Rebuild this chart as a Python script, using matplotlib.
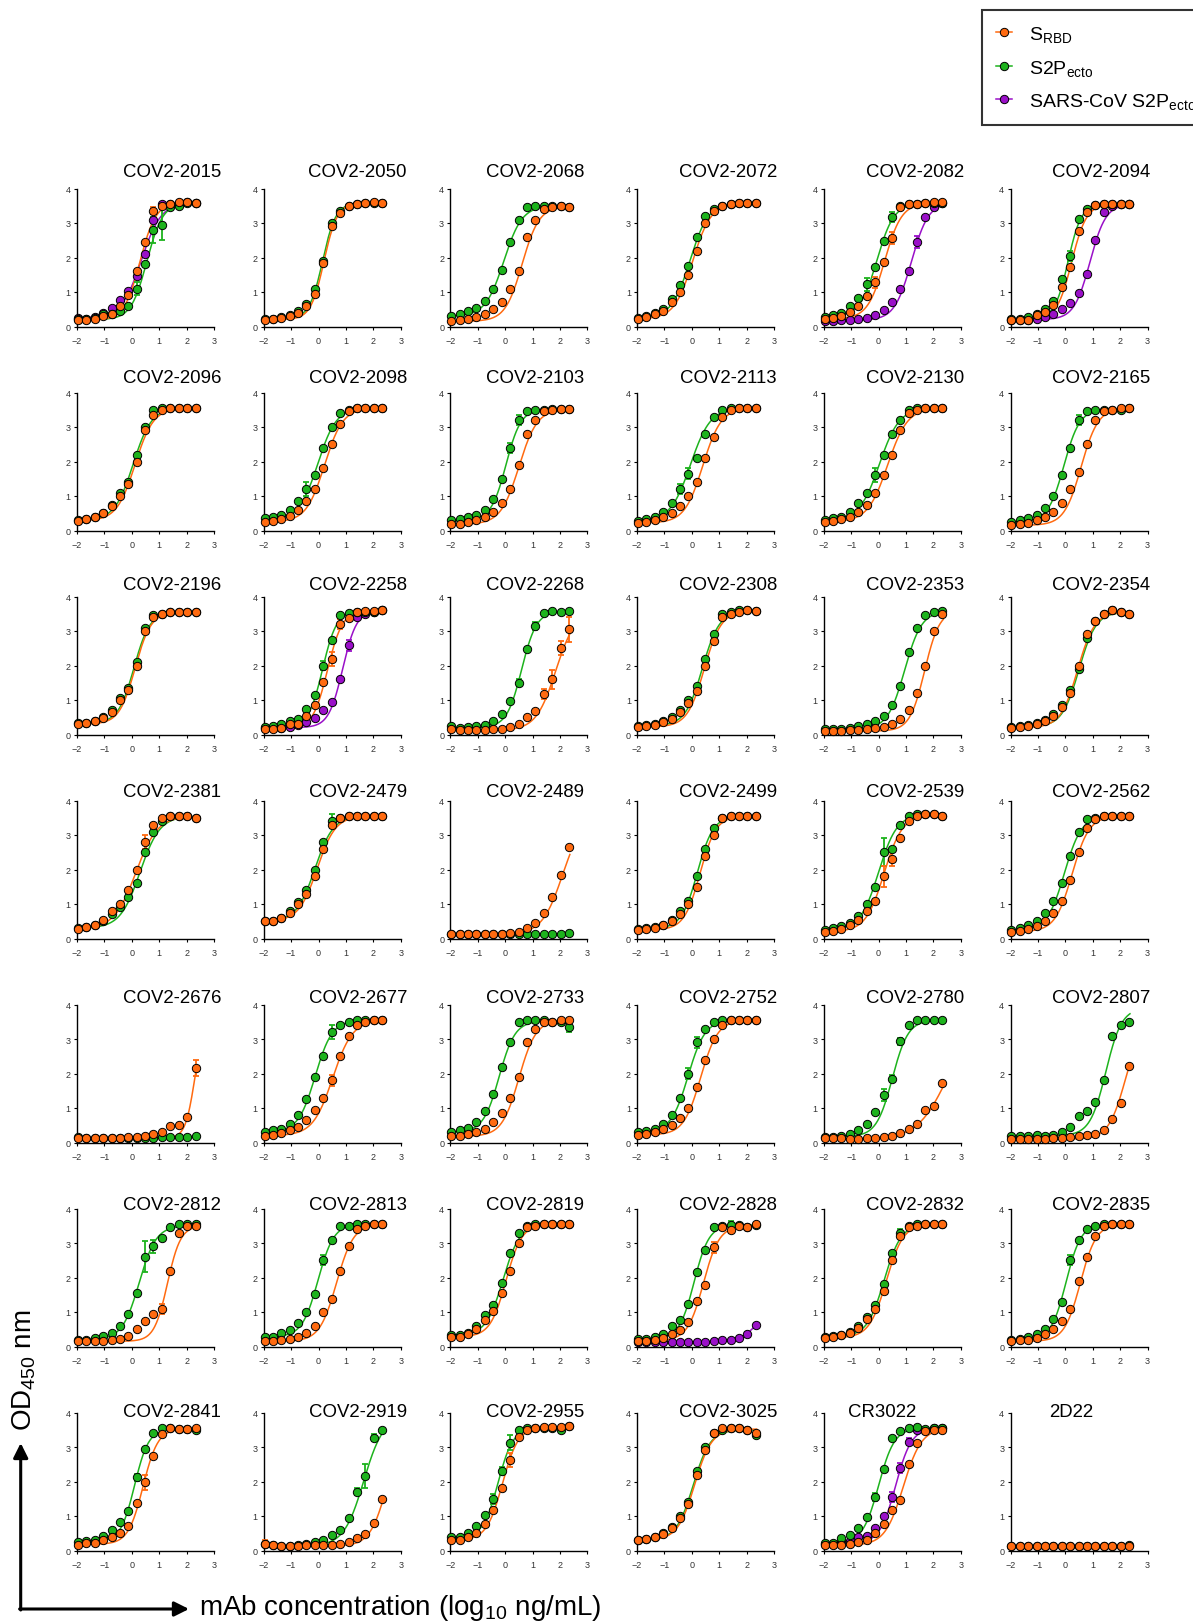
import numpy as np
import matplotlib
matplotlib.use('Agg')
import matplotlib.pyplot as plt
from matplotlib.lines import Line2D

plt.rcParams['font.family'] = ['Liberation Sans', 'DejaVu Sans']
plt.rcParams['mathtext.fontset'] = 'custom'
plt.rcParams['mathtext.rm'] = 'Liberation Sans'
plt.rcParams['mathtext.it'] = 'Liberation Sans:italic'
plt.rcParams['mathtext.bf'] = 'Liberation Sans:bold'

# log10 mAb concentration (ng/mL), 15 dilutions
conc_log = [-1.97, -1.66, -1.36, -1.05, -0.74, -0.44, -0.13, 0.18, 0.49, 0.79, 1.10, 1.41, 1.71, 2.02, 2.33]

titles = ['COV2-2015', 'COV2-2050', 'COV2-2068', 'COV2-2072', 'COV2-2082', 'COV2-2094',
          'COV2-2096', 'COV2-2098', 'COV2-2103', 'COV2-2113', 'COV2-2130', 'COV2-2165',
          'COV2-2196', 'COV2-2258', 'COV2-2268', 'COV2-2308', 'COV2-2353', 'COV2-2354',
          'COV2-2381', 'COV2-2479', 'COV2-2489', 'COV2-2499', 'COV2-2539', 'COV2-2562',
          'COV2-2676', 'COV2-2677', 'COV2-2733', 'COV2-2752', 'COV2-2780', 'COV2-2807',
          'COV2-2812', 'COV2-2813', 'COV2-2819', 'COV2-2828', 'COV2-2832', 'COV2-2835',
          'COV2-2841', 'COV2-2919', 'COV2-2955', 'COV2-3025', 'CR3022', '2D22']

# OD450 readings, S RBD (orange)
rbd_od = [
    [0.18, 0.18, 0.22, 0.30, 0.35, 0.60, 0.90, 1.60, 2.45, 3.35, 3.50, 3.55, 3.60, 3.60, 3.58],
    [0.20, 0.22, 0.25, 0.30, 0.40, 0.60, 0.95, 1.85, 2.90, 3.30, 3.50, 3.55, 3.58, 3.60, 3.58],
    [0.15, 0.20, 0.22, 0.28, 0.35, 0.50, 0.70, 1.10, 1.60, 2.60, 3.10, 3.40, 3.45, 3.50, 3.45],
    [0.22, 0.28, 0.35, 0.45, 0.70, 1.00, 1.50, 2.20, 3.00, 3.35, 3.50, 3.55, 3.58, 3.58, 3.58],
    [0.22, 0.25, 0.30, 0.42, 0.60, 0.88, 1.28, 1.88, 2.57, 3.45, 3.55, 3.55, 3.57, 3.60, 3.60],
    [0.18, 0.18, 0.20, 0.32, 0.42, 0.62, 1.15, 1.72, 2.78, 3.32, 3.52, 3.55, 3.55, 3.55, 3.55],
    [0.28, 0.32, 0.38, 0.50, 0.70, 1.00, 1.35, 2.00, 2.90, 3.35, 3.50, 3.55, 3.55, 3.55, 3.55],
    [0.25, 0.28, 0.32, 0.42, 0.60, 0.85, 1.20, 1.80, 2.50, 3.10, 3.45, 3.55, 3.55, 3.55, 3.55],
    [0.18, 0.20, 0.25, 0.30, 0.40, 0.55, 0.80, 1.20, 1.90, 2.80, 3.20, 3.45, 3.50, 3.52, 3.52],
    [0.22, 0.25, 0.30, 0.38, 0.50, 0.70, 1.00, 1.40, 2.10, 2.70, 3.30, 3.50, 3.55, 3.55, 3.55],
    [0.25, 0.28, 0.32, 0.40, 0.55, 0.75, 1.10, 1.60, 2.20, 2.90, 3.40, 3.50, 3.55, 3.55, 3.55],
    [0.15, 0.18, 0.22, 0.30, 0.40, 0.55, 0.80, 1.20, 1.70, 2.50, 3.20, 3.45, 3.50, 3.55, 3.55],
    [0.30, 0.32, 0.38, 0.48, 0.65, 1.00, 1.30, 2.00, 3.00, 3.40, 3.50, 3.55, 3.55, 3.55, 3.55],
    [0.15, 0.17, 0.18, 0.30, 0.30, 0.55, 0.85, 1.52, 2.18, 3.20, 3.38, 3.55, 3.57, 3.58, 3.60],
    [0.15, 0.12, 0.12, 0.12, 0.12, 0.15, 0.17, 0.22, 0.30, 0.50, 0.67, 1.17, 1.60, 2.50, 3.05],
    [0.22, 0.25, 0.28, 0.35, 0.45, 0.65, 0.90, 1.25, 2.00, 2.70, 3.40, 3.50, 3.55, 3.60, 3.58],
    [0.10, 0.10, 0.10, 0.12, 0.12, 0.15, 0.18, 0.22, 0.30, 0.45, 0.70, 1.20, 2.00, 3.00, 3.50],
    [0.20, 0.22, 0.25, 0.30, 0.40, 0.55, 0.80, 1.20, 2.00, 2.90, 3.30, 3.50, 3.60, 3.55, 3.50],
    [0.28, 0.32, 0.40, 0.55, 0.80, 1.00, 1.40, 2.00, 2.80, 3.30, 3.50, 3.55, 3.55, 3.55, 3.50],
    [0.50, 0.50, 0.60, 0.75, 1.00, 1.30, 1.80, 2.60, 3.30, 3.50, 3.55, 3.55, 3.55, 3.55, 3.55],
    [0.12, 0.12, 0.12, 0.12, 0.12, 0.12, 0.14, 0.16, 0.20, 0.30, 0.45, 0.75, 1.20, 1.85, 2.65],
    [0.25, 0.27, 0.30, 0.38, 0.50, 0.70, 1.00, 1.50, 2.40, 3.00, 3.50, 3.55, 3.55, 3.55, 3.55],
    [0.20, 0.22, 0.28, 0.38, 0.55, 0.80, 1.10, 1.80, 2.30, 2.90, 3.40, 3.55, 3.60, 3.60, 3.55],
    [0.20, 0.22, 0.28, 0.35, 0.50, 0.75, 1.10, 1.70, 2.50, 3.20, 3.45, 3.55, 3.55, 3.55, 3.55],
    [0.13, 0.12, 0.12, 0.12, 0.12, 0.13, 0.15, 0.17, 0.20, 0.25, 0.30, 0.47, 0.50, 0.75, 2.15],
    [0.20, 0.22, 0.28, 0.35, 0.45, 0.65, 0.95, 1.30, 1.80, 2.50, 3.10, 3.40, 3.50, 3.55, 3.55],
    [0.18, 0.20, 0.25, 0.30, 0.40, 0.60, 0.85, 1.30, 1.90, 2.90, 3.30, 3.50, 3.50, 3.55, 3.55],
    [0.22, 0.25, 0.30, 0.38, 0.50, 0.70, 1.00, 1.60, 2.40, 3.00, 3.40, 3.55, 3.55, 3.55, 3.55],
    [0.12, 0.12, 0.12, 0.10, 0.10, 0.12, 0.13, 0.17, 0.20, 0.27, 0.38, 0.55, 0.93, 1.05, 1.73],
    [0.10, 0.10, 0.10, 0.10, 0.10, 0.12, 0.12, 0.15, 0.20, 0.22, 0.25, 0.37, 0.67, 1.15, 2.22],
    [0.15, 0.15, 0.15, 0.17, 0.18, 0.22, 0.30, 0.50, 0.75, 0.95, 1.08, 2.20, 3.30, 3.50, 3.50],
    [0.15, 0.15, 0.18, 0.22, 0.28, 0.40, 0.58, 1.00, 1.37, 2.20, 2.90, 3.40, 3.50, 3.55, 3.55],
    [0.28, 0.28, 0.35, 0.52, 0.77, 1.02, 1.55, 2.20, 3.00, 3.45, 3.50, 3.55, 3.55, 3.55, 3.55],
    [0.17, 0.17, 0.20, 0.25, 0.35, 0.47, 0.72, 1.32, 1.78, 2.87, 3.45, 3.38, 3.48, 3.45, 3.55],
    [0.25, 0.28, 0.32, 0.40, 0.55, 0.80, 1.10, 1.60, 2.50, 3.20, 3.45, 3.50, 3.55, 3.55, 3.55],
    [0.15, 0.18, 0.20, 0.25, 0.35, 0.50, 0.75, 1.10, 1.90, 2.60, 3.20, 3.50, 3.55, 3.55, 3.55],
    [0.15, 0.22, 0.22, 0.30, 0.38, 0.52, 0.72, 1.37, 1.98, 2.73, 3.38, 3.55, 3.52, 3.52, 3.55],
    [0.20, 0.15, 0.13, 0.12, 0.12, 0.15, 0.15, 0.15, 0.17, 0.20, 0.25, 0.37, 0.47, 0.80, 1.48],
    [0.30, 0.30, 0.38, 0.52, 0.77, 1.18, 1.82, 2.62, 3.30, 3.50, 3.55, 3.58, 3.58, 3.58, 3.60],
    [0.30, 0.32, 0.38, 0.48, 0.65, 0.95, 1.35, 2.20, 2.90, 3.40, 3.55, 3.55, 3.55, 3.50, 3.40],
    [0.15, 0.15, 0.17, 0.20, 0.25, 0.30, 0.50, 0.77, 1.17, 1.45, 2.52, 3.13, 3.45, 3.48, 3.50],
    [0.12, 0.12, 0.12, 0.12, 0.12, 0.12, 0.12, 0.12, 0.12, 0.12, 0.12, 0.12, 0.12, 0.13, 0.13],
]

# OD450 readings, S2P ecto (green)
s2p_od = [
    [0.22, 0.22, 0.25, 0.35, 0.35, 0.45, 0.60, 1.10, 1.80, 2.80, 2.95, 3.45, 3.50, 3.58, 3.58],
    [0.22, 0.23, 0.27, 0.32, 0.45, 0.65, 1.10, 1.90, 3.00, 3.35, 3.50, 3.55, 3.58, 3.58, 3.58],
    [0.30, 0.35, 0.45, 0.55, 0.75, 1.10, 1.65, 2.45, 3.10, 3.45, 3.50, 3.50, 3.50, 3.50, 3.45],
    [0.25, 0.30, 0.38, 0.50, 0.80, 1.20, 1.75, 2.60, 3.20, 3.40, 3.50, 3.55, 3.58, 3.58, 3.58],
    [0.28, 0.32, 0.40, 0.58, 0.82, 1.22, 1.72, 2.47, 3.17, 3.50, 3.55, 3.55, 3.57, 3.58, 3.58],
    [0.22, 0.22, 0.27, 0.37, 0.52, 0.73, 1.38, 2.05, 3.12, 3.42, 3.52, 3.55, 3.55, 3.55, 3.55],
    [0.30, 0.33, 0.40, 0.52, 0.75, 1.10, 1.40, 2.20, 3.00, 3.50, 3.55, 3.55, 3.55, 3.55, 3.55],
    [0.35, 0.38, 0.45, 0.60, 0.85, 1.20, 1.60, 2.40, 3.00, 3.40, 3.50, 3.55, 3.55, 3.55, 3.55],
    [0.30, 0.32, 0.38, 0.45, 0.60, 0.90, 1.50, 2.40, 3.20, 3.45, 3.50, 3.50, 3.52, 3.52, 3.52],
    [0.28, 0.32, 0.40, 0.55, 0.80, 1.20, 1.65, 2.10, 2.80, 3.30, 3.50, 3.55, 3.55, 3.55, 3.55],
    [0.30, 0.35, 0.40, 0.55, 0.80, 1.10, 1.60, 2.20, 2.80, 3.20, 3.50, 3.55, 3.55, 3.55, 3.55],
    [0.25, 0.30, 0.35, 0.45, 0.65, 1.00, 1.60, 2.40, 3.20, 3.45, 3.50, 3.50, 3.50, 3.50, 3.55],
    [0.32, 0.33, 0.40, 0.50, 0.70, 1.05, 1.35, 2.10, 3.10, 3.45, 3.50, 3.55, 3.55, 3.55, 3.55],
    [0.22, 0.25, 0.30, 0.38, 0.45, 0.75, 1.15, 2.00, 2.75, 3.45, 3.52, 3.55, 3.55, 3.55, 3.60],
    [0.25, 0.20, 0.22, 0.25, 0.28, 0.40, 0.60, 0.97, 1.50, 2.47, 3.15, 3.52, 3.57, 3.55, 3.57],
    [0.25, 0.27, 0.30, 0.38, 0.50, 0.70, 1.00, 1.40, 2.20, 2.90, 3.50, 3.55, 3.60, 3.60, 3.58],
    [0.15, 0.15, 0.17, 0.20, 0.25, 0.30, 0.40, 0.55, 0.85, 1.40, 2.40, 3.10, 3.45, 3.55, 3.58],
    [0.22, 0.25, 0.28, 0.32, 0.42, 0.60, 0.85, 1.30, 1.90, 2.80, 3.30, 3.50, 3.60, 3.55, 3.50],
    [0.30, 0.32, 0.40, 0.50, 0.70, 0.90, 1.20, 1.60, 2.50, 3.10, 3.40, 3.55, 3.55, 3.55, 3.50],
    [0.50, 0.50, 0.60, 0.80, 1.05, 1.40, 2.00, 2.80, 3.40, 3.50, 3.55, 3.55, 3.55, 3.55, 3.55],
    [0.12, 0.12, 0.12, 0.12, 0.12, 0.12, 0.12, 0.12, 0.12, 0.12, 0.12, 0.12, 0.12, 0.12, 0.15],
    [0.28, 0.30, 0.33, 0.40, 0.55, 0.80, 1.10, 1.80, 2.60, 3.20, 3.50, 3.55, 3.55, 3.55, 3.55],
    [0.25, 0.30, 0.35, 0.45, 0.65, 1.00, 1.50, 2.50, 2.60, 3.30, 3.55, 3.60, 3.60, 3.60, 3.55],
    [0.25, 0.30, 0.38, 0.50, 0.75, 1.10, 1.60, 2.40, 3.10, 3.45, 3.50, 3.55, 3.55, 3.55, 3.55],
    [0.15, 0.13, 0.13, 0.13, 0.13, 0.13, 0.13, 0.13, 0.13, 0.13, 0.15, 0.15, 0.15, 0.15, 0.20],
    [0.30, 0.35, 0.40, 0.55, 0.80, 1.25, 1.90, 2.50, 3.20, 3.40, 3.50, 3.55, 3.55, 3.55, 3.55],
    [0.30, 0.35, 0.42, 0.60, 0.90, 1.40, 2.20, 2.90, 3.50, 3.55, 3.55, 3.55, 3.50, 3.50, 3.35],
    [0.30, 0.33, 0.40, 0.55, 0.80, 1.30, 2.00, 2.90, 3.30, 3.50, 3.55, 3.55, 3.55, 3.55, 3.55],
    [0.17, 0.17, 0.20, 0.25, 0.35, 0.55, 0.88, 1.38, 1.85, 2.93, 3.42, 3.55, 3.55, 3.55, 3.55],
    [0.20, 0.20, 0.20, 0.22, 0.20, 0.23, 0.30, 0.45, 0.78, 0.90, 1.17, 1.82, 3.08, 3.42, 3.50],
    [0.20, 0.20, 0.25, 0.30, 0.38, 0.60, 0.93, 1.55, 2.60, 2.90, 3.15, 3.45, 3.55, 3.55, 3.55],
    [0.28, 0.27, 0.40, 0.48, 0.68, 1.00, 1.52, 2.50, 3.10, 3.50, 3.50, 3.55, 3.55, 3.55, 3.55],
    [0.32, 0.32, 0.40, 0.60, 0.92, 1.20, 1.85, 2.70, 3.30, 3.50, 3.55, 3.55, 3.55, 3.55, 3.55],
    [0.22, 0.22, 0.27, 0.35, 0.58, 0.78, 1.22, 2.17, 2.80, 3.45, 3.50, 3.52, 3.52, 3.45, 3.52],
    [0.28, 0.30, 0.33, 0.42, 0.60, 0.85, 1.20, 1.80, 2.70, 3.30, 3.50, 3.55, 3.55, 3.55, 3.55],
    [0.20, 0.22, 0.28, 0.35, 0.50, 0.80, 1.30, 2.50, 3.10, 3.40, 3.50, 3.55, 3.55, 3.55, 3.55],
    [0.25, 0.27, 0.30, 0.42, 0.60, 0.82, 1.15, 2.12, 2.95, 3.42, 3.55, 3.55, 3.52, 3.52, 3.48],
    [0.18, 0.15, 0.12, 0.13, 0.17, 0.20, 0.25, 0.30, 0.45, 0.60, 0.93, 1.70, 2.15, 3.27, 3.50],
    [0.38, 0.38, 0.50, 0.70, 1.03, 1.50, 2.30, 3.12, 3.50, 3.55, 3.55, 3.55, 3.55, 3.50, 3.60],
    [0.30, 0.33, 0.38, 0.50, 0.68, 1.00, 1.40, 2.30, 3.00, 3.40, 3.50, 3.55, 3.55, 3.50, 3.35],
    [0.22, 0.22, 0.35, 0.45, 0.65, 0.97, 1.55, 2.35, 3.25, 3.45, 3.55, 3.57, 3.52, 3.55, 3.55],
    [0.13, 0.13, 0.13, 0.13, 0.13, 0.13, 0.13, 0.13, 0.13, 0.13, 0.13, 0.13, 0.13, 0.14, 0.15],
]

# OD450 readings, SARS-CoV S2P ecto (purple), only for some mAbs
sars_panels = ['COV2-2015', 'COV2-2082', 'COV2-2094', 'COV2-2258', 'COV2-2828', 'CR3022']
sars_od = [
    [0.25, 0.22, 0.28, 0.38, 0.55, 0.78, 1.02, 1.45, 2.10, 3.10, 3.55, 3.55, 3.58, 3.60, 3.58],
    [0.15, 0.17, 0.18, 0.20, 0.22, 0.25, 0.33, 0.47, 0.72, 1.10, 1.62, 2.45, 3.17, 3.45, 3.58],
    [0.20, 0.20, 0.18, 0.22, 0.28, 0.37, 0.50, 0.68, 0.97, 1.52, 2.52, 3.32, 3.50, 3.55, 3.55],
    [0.20, 0.20, 0.20, 0.22, 0.27, 0.37, 0.48, 0.70, 0.95, 1.60, 2.58, 3.40, 3.50, 3.55, 3.60],
    [0.12, 0.12, 0.12, 0.12, 0.13, 0.13, 0.13, 0.13, 0.13, 0.15, 0.18, 0.20, 0.25, 0.35, 0.62],
    [0.20, 0.20, 0.25, 0.27, 0.38, 0.42, 0.65, 1.00, 1.55, 2.40, 3.15, 3.50, 3.50, 3.55, 3.55],
]

# 4PL fits: (bottom, top, logEC50, hill)
rbd_fit = [
    (0.18, 3.60, 0.30, 1.5), (0.20, 3.58, 0.20, 1.8), (0.15, 3.48, 0.62, 1.4), (0.22, 3.58, 0.03, 1.3),
    (0.22, 3.58, 0.22, 1.4), (0.18, 3.55, 0.23, 1.6), (0.28, 3.55, 0.12, 1.3), (0.25, 3.55, 0.22, 1.3),
    (0.18, 3.52, 0.50, 1.3), (0.22, 3.55, 0.40, 1.3), (0.25, 3.55, 0.33, 1.2), (0.15, 3.55, 0.58, 1.4),
    (0.30, 3.55, 0.12, 1.5), (0.15, 3.60, 0.33, 1.6), (0.12, 3.60, 1.85, 1.2), (0.22, 3.58, 0.45, 1.4),
    (0.10, 3.60, 1.68, 1.6), (0.20, 3.55, 0.45, 1.4), (0.28, 3.55, 0.15, 1.1), (0.50, 3.55, -0.05, 1.3),
    (0.12, 3.60, 2.10, 1.15), (0.25, 3.55, 0.30, 1.5), (0.20, 3.58, 0.20, 1.3), (0.20, 3.55, 0.25, 1.4),
    (0.13, 3.60, 2.30, 2.5), (0.20, 3.55, 0.52, 1.2), (0.18, 3.55, 0.50, 1.4), (0.22, 3.55, 0.32, 1.4),
    (0.10, 3.60, 2.50, 0.8), (0.10, 3.60, 2.20, 1.4), (0.15, 3.50, 1.30, 1.8), (0.15, 3.55, 0.66, 1.4),
    (0.28, 3.55, 0.03, 1.5), (0.17, 3.50, 0.42, 1.5), (0.25, 3.55, 0.28, 1.4), (0.15, 3.55, 0.55, 1.5),
    (0.18, 3.53, 0.41, 1.6), (0.13, 3.60, 2.50, 1.4), (0.30, 3.58, -0.10, 1.5), (0.30, 3.52, 0.10, 1.4),
    (0.15, 3.55, 0.90, 1.3), (0.12, 3.60, 4.50, 1.0),
]

s2p_fit = [
    (0.20, 3.58, 0.55, 1.5), (0.22, 3.58, 0.15, 1.8), (0.30, 3.50, -0.05, 1.3), (0.25, 3.58, -0.07, 1.3),
    (0.28, 3.57, -0.06, 1.4), (0.22, 3.55, 0.10, 1.8), (0.30, 3.55, 0.05, 1.3), (0.35, 3.55, -0.02, 1.3),
    (0.30, 3.52, 0.03, 1.6), (0.28, 3.55, -0.05, 1.2), (0.30, 3.55, 0.03, 1.2), (0.25, 3.52, -0.05, 1.5),
    (0.32, 3.55, 0.08, 1.5), (0.22, 3.58, 0.15, 1.7), (0.20, 3.57, 0.60, 1.6), (0.25, 3.58, 0.38, 1.4),
    (0.15, 3.58, 0.95, 1.4), (0.22, 3.55, 0.50, 1.4), (0.30, 3.55, 0.30, 1.2), (0.50, 3.55, -0.13, 1.3),
    (0.12, 3.60, 4.50, 1.0), (0.28, 3.55, 0.20, 1.5), (0.25, 3.60, 0.00, 1.3), (0.25, 3.55, -0.03, 1.4),
    (0.13, 3.60, 4.50, 1.0), (0.30, 3.55, -0.12, 1.4), (0.30, 3.52, -0.22, 1.5), (0.30, 3.55, -0.14, 1.4),
    (0.17, 3.55, 0.50, 1.5), (0.20, 3.90, 1.48, 1.5), (0.20, 3.50, 0.27, 1.4), (0.28, 3.55, -0.02, 1.5),
    (0.32, 3.55, -0.08, 1.4), (0.22, 3.52, 0.08, 1.6), (0.28, 3.55, 0.20, 1.4), (0.20, 3.55, 0.03, 1.6),
    (0.25, 3.52, 0.10, 1.7), (0.13, 3.90, 1.65, 1.2), (0.38, 3.55, -0.26, 1.6), (0.30, 3.50, 0.05, 1.4),
    (0.22, 3.55, 0.00, 1.5), (0.13, 3.60, 4.50, 1.0),
]

sars_fit = [
    (0.25, 3.60, 0.35, 1.2), (0.18, 3.60, 1.20, 1.4), (0.20, 3.55, 0.90, 1.5),
    (0.20, 3.60, 0.88, 1.7), (0.12, 3.60, 3.10, 1.0), (0.20, 3.55, 0.62, 1.5),
]

# larger SD error bars: (panel, series, point index, sd)
err_bars = [
    ('COV2-2015', 's2p', 7, 0.2), ('COV2-2015', 's2p', 9, 0.37), ('COV2-2015', 's2p', 10, 0.45), ('COV2-2015', 'rbd', 9, 0.1),
    ('COV2-2082', 's2p', 5, 0.2), ('COV2-2082', 's2p', 8, 0.15), ('COV2-2082', 'rbd', 6, 0.15), ('COV2-2082', 'rbd', 8, 0.17),
    ('COV2-2082', 'sars', 11, 0.17), ('COV2-2094', 's2p', 7, 0.15),
    ('COV2-2098', 's2p', 5, 0.2), ('COV2-2103', 's2p', 7, 0.15), ('COV2-2103', 's2p', 8, 0.15),
    ('COV2-2113', 's2p', 5, 0.15), ('COV2-2113', 's2p', 6, 0.15), ('COV2-2130', 's2p', 6, 0.2),
    ('COV2-2165', 's2p', 8, 0.15),
    ('COV2-2258', 's2p', 7, 0.12), ('COV2-2258', 'rbd', 8, 0.2), ('COV2-2258', 'rbd', 9, 0.15), ('COV2-2258', 'sars', 10, 0.15),
    ('COV2-2268', 's2p', 8, 0.1), ('COV2-2268', 's2p', 10, 0.12), ('COV2-2268', 'rbd', 11, 0.15),
    ('COV2-2268', 'rbd', 12, 0.28), ('COV2-2268', 'rbd', 13, 0.2), ('COV2-2268', 'rbd', 14, 0.37),
    ('COV2-2381', 'rbd', 8, 0.2), ('COV2-2479', 's2p', 8, 0.2),
    ('COV2-2539', 's2p', 7, 0.4), ('COV2-2539', 'rbd', 7, 0.3), ('COV2-2539', 'rbd', 8, 0.2),
    ('COV2-2676', 'rbd', 14, 0.23),
    ('COV2-2677', 's2p', 8, 0.2), ('COV2-2677', 'rbd', 8, 0.15), ('COV2-2733', 's2p', 14, 0.15),
    ('COV2-2752', 's2p', 6, 0.15), ('COV2-2752', 's2p', 7, 0.15),
    ('COV2-2780', 's2p', 7, 0.18), ('COV2-2780', 's2p', 8, 0.1), ('COV2-2780', 's2p', 9, 0.1),
    ('COV2-2812', 's2p', 8, 0.45), ('COV2-2812', 's2p', 9, 0.2), ('COV2-2812', 'rbd', 10, 0.15),
    ('COV2-2813', 's2p', 7, 0.15), ('COV2-2828', 's2p', 11, 0.12), ('COV2-2828', 'rbd', 9, 0.15),
    ('COV2-2828', 'rbd', 11, 0.1), ('COV2-2832', 's2p', 9, 0.1), ('COV2-2835', 's2p', 7, 0.15),
    ('COV2-2841', 's2p', 7, 0.1), ('COV2-2841', 'rbd', 8, 0.22),
    ('COV2-2919', 'rbd', 0, 0.1), ('COV2-2919', 's2p', 11, 0.1), ('COV2-2919', 's2p', 12, 0.35), ('COV2-2919', 's2p', 13, 0.1),
    ('COV2-2955', 's2p', 5, 0.15), ('COV2-2955', 's2p', 6, 0.12), ('COV2-2955', 's2p', 7, 0.22), ('COV2-2955', 'rbd', 7, 0.2),
    ('CR3022', 's2p', 6, 0.12), ('CR3022', 'sars', 8, 0.15), ('CR3022', 'sars', 9, 0.15), ('CR3022', 'sars', 10, 0.1),
]

colors = {'rbd': '#ff6a10', 's2p': '#1db31d', 'sars': '#9a10c8'}


def four_pl(x, bottom, top, ec50, hill):
    return bottom + (top - bottom) / (1 + 10 ** (hill * (ec50 - x)))


W, H = 1193, 1624
fig = plt.figure(figsize=(W / 100, H / 100), dpi=100)

# overlay in pixel coordinates for titles, labels and arrows
over = fig.add_axes([0, 0, 1, 1])
over.set_xlim(0, W)
over.set_ylim(H, 0)
over.axis('off')
over.set_zorder(10)

x_fit = np.linspace(-1.97, 2.36, 200)
title_shift = [4, 3, -6, 0, 0, 0]

for i, name in enumerate(titles):
    r, c = divmod(i, 6)
    left = 77 + c * 186.7
    top = 189.5 + r * 204
    ax = fig.add_axes([left / W, 1 - (top + 138) / H, 137 / W, 138 / H])
    ax.patch.set_visible(False)

    series = []
    if name in sars_panels:
        k = sars_panels.index(name)
        series.append(('sars', sars_od[k], sars_fit[k]))
    series.append(('s2p', s2p_od[i], s2p_fit[i]))
    series.append(('rbd', rbd_od[i], rbd_fit[i]))

    for key, vals, fit in series:
        col = colors[key]
        ax.plot(x_fit, four_pl(x_fit, *fit), color=col, lw=1.1, zorder=2, clip_on=False)
        for (p, s, idx, sd) in err_bars:
            if p == name and s == key:
                ax.errorbar(conc_log[idx], vals[idx], yerr=sd, fmt='none', ecolor=col,
                            elinewidth=1.3, capsize=2.5, capthick=1.3, zorder=3, clip_on=False)
        ax.plot(conc_log, vals, 'o', ms=6, mfc=col, mec='black', mew=0.7, zorder=4, clip_on=False)

    ax.set_xlim(-2, 3)
    ax.set_ylim(0, 4)
    ax.set_xticks([-2, -1, 0, 1, 2, 3])
    ax.set_yticks([0, 1, 2, 3, 4])
    for s in ['top', 'right']:
        ax.spines[s].set_visible(False)
    for s in ['left', 'bottom']:
        ax.spines[s].set_linewidth(1.0)
    ax.tick_params(length=2.5, width=0.8, labelsize=6.5, labelcolor='#333333')
    ax.tick_params(axis='x', pad=4.5)
    ax.tick_params(axis='y', pad=2)

    # panel title
    if name == 'CR3022':
        tx = left + 58
    elif name == '2D22':
        tx = left + 61
    else:
        tx = left + 91 + title_shift[c]
    over.text(tx, 176.7 + r * 206.7, name, ha='center', va='baseline', fontsize=13.4)

# axis arrows and labels
over.annotate('', xy=(20.7, 1444), xytext=(20.7, 1611),
              arrowprops=dict(arrowstyle='-|>', lw=2.2, color='black', mutation_scale=22,
                              shrinkA=0, shrinkB=0))
over.annotate('', xy=(189, 1610), xytext=(19.6, 1610),
              arrowprops=dict(arrowstyle='-|>', lw=2.2, color='black', mutation_scale=22,
                              shrinkA=0, shrinkB=0))
over.text(24, 1370, r'OD$_{\mathregular{450}}$ nm', rotation=90, ha='center', va='center', fontsize=20)
over.text(199, 1615, r'mAb concentration (log$_{\mathregular{10}}$ ng/mL)', ha='left', va='baseline', fontsize=20)

# legend (box runs past the right edge, as in the original figure)
handles = [
    Line2D([], [], color=colors['rbd'], lw=1.1, marker='o', ms=6, mfc=colors['rbd'], mec='black', mew=0.7),
    Line2D([], [], color=colors['s2p'], lw=1.1, marker='o', ms=6, mfc=colors['s2p'], mec='black', mew=0.7),
    Line2D([], [], color=colors['sars'], lw=1.1, marker='o', ms=6, mfc=colors['sars'], mec='black', mew=0.7),
]
labels = [r'S$_{\mathregular{RBD}}$', r'S2P$_{\mathregular{ecto}}$', r'SARS-CoV S2P$_{\mathregular{ecto}}$']
leg = fig.legend(handles, labels, loc='upper left', bbox_to_anchor=(981.7 / W, 1 - 10.7 / H),
                 fontsize=14, frameon=True, fancybox=False, edgecolor='black',
                 handlelength=0.8, handletextpad=0.9, borderpad=0.75, labelspacing=0.68,
                 borderaxespad=0)
leg.get_frame().set_linewidth(1.5)

fig.savefig('out.png', dpi=100)
